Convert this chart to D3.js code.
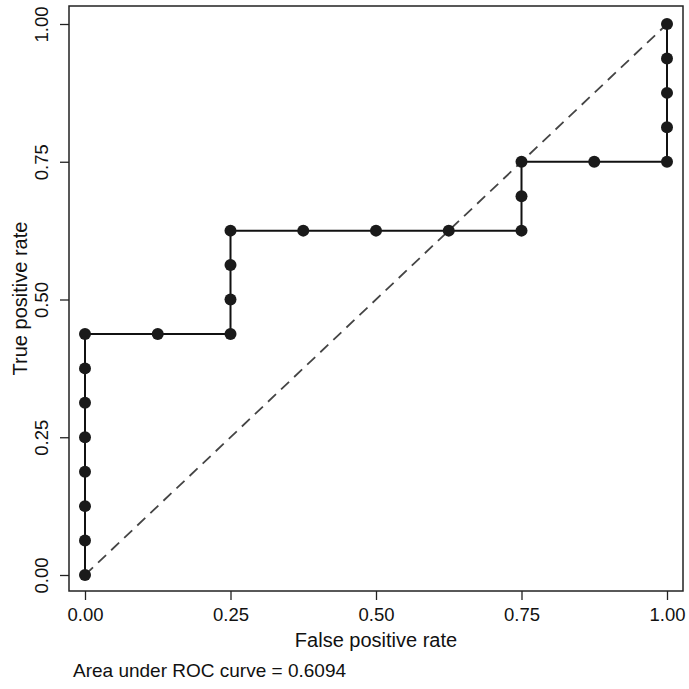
<!DOCTYPE html>
<html>
<head>
<meta charset="utf-8">
<script src="https://cdn.jsdelivr.net/npm/d3@7"></script>
<style>
  body { margin: 0; background: #fff; }
  text { font-family: "Liberation Sans", Arial, sans-serif; fill: #111; }
</style>
</head>
<body>
<div id="chart"></div>
<script>
// ROC points (false positive rate, true positive rate)
const fpr = [0, 0, 0, 0, 0, 0, 0, 0, 0.125, 0.25, 0.25, 0.25, 0.25, 0.375, 0.5, 0.625, 0.75, 0.75, 0.75, 0.875, 1, 1, 1, 1, 1];
const tpr = [0, 0.0625, 0.125, 0.1875, 0.25, 0.3125, 0.375, 0.4375, 0.4375, 0.4375, 0.5, 0.5625, 0.625, 0.625, 0.625, 0.625, 0.625, 0.6875, 0.75, 0.75, 0.75, 0.8125, 0.875, 0.9375, 1];
const ticks = [0, 0.25, 0.5, 0.75, 1];
const aucLabel = 'Area under ROC curve = 0.6094';

const width = 689, height = 689;
const frame = {l: 69, t: 6, r: 683, b: 591};

const svg = d3.select('#chart').append('svg')
    .attr('width', width)
    .attr('height', height);

const x = d3.scaleLinear().domain([0, 1]).range([85, 667]);
const y = d3.scaleLinear().domain([0, 1]).range([575, 24]);

const points = fpr.map((d, i) => ({x: d, y: tpr[i]}));

// plot frame
svg.append('rect')
    .attr('x', frame.l).attr('y', frame.t)
    .attr('width', frame.r - frame.l).attr('height', frame.b - frame.t)
    .attr('fill', 'none').attr('stroke', '#222').attr('stroke-width', 1.5);

// axes
const xAxis = svg.append('g')
    .attr('transform', `translate(0,${frame.b})`)
    .call(d3.axisBottom(x).tickValues(ticks).tickFormat(d3.format('.2f')).tickSize(9).tickPadding(8));
xAxis.select('.domain').remove();
xAxis.selectAll('line').attr('stroke', '#222').attr('stroke-width', 1.3);
xAxis.selectAll('text').attr('font-size', 18.5).attr('fill', '#111')
    .style('font-family', '"Liberation Sans", Arial, sans-serif');

const yAxis = svg.append('g')
    .attr('transform', `translate(${frame.l},0)`)
    .call(d3.axisLeft(y).tickValues(ticks).tickFormat(d3.format('.2f')).tickSize(9));
yAxis.select('.domain').remove();
yAxis.selectAll('line').attr('stroke', '#222').attr('stroke-width', 1.3);
yAxis.selectAll('text')
    .attr('font-size', 18.5).attr('fill', '#111')
    .style('font-family', '"Liberation Sans", Arial, sans-serif')
    .attr('x', 0).attr('dy', 0)
    .attr('text-anchor', 'middle')
    .attr('transform', 'translate(-21,0) rotate(-90)');

// reference diagonal
svg.append('line')
    .attr('x1', x(0)).attr('y1', y(0))
    .attr('x2', x(1)).attr('y2', y(1))
    .attr('stroke', '#444').attr('stroke-width', 1.8)
    .attr('stroke-dasharray', '11,7');

// ROC curve
const line = d3.line().x(d => x(d.x)).y(d => y(d.y));
svg.append('path')
    .datum(points)
    .attr('d', line)
    .attr('fill', 'none')
    .attr('stroke', '#111')
    .attr('stroke-width', 2);

svg.append('g').selectAll('circle')
    .data(points)
    .enter()
    .append('circle')
    .attr('cx', d => x(d.x))
    .attr('cy', d => y(d.y))
    .attr('r', 6)
    .attr('fill', '#1a1a1a');

// titles
svg.append('text')
    .attr('x', 376).attr('y', 647)
    .attr('text-anchor', 'middle').attr('font-size', 20)
    .text('False positive rate');

svg.append('text')
    .attr('transform', `translate(27,${(frame.t + frame.b) / 2}) rotate(-90)`)
    .attr('text-anchor', 'middle').attr('font-size', 20)
    .text('True positive rate');

svg.append('text')
    .attr('x', 73).attr('y', 677)
    .attr('font-size', 19)
    .text(aucLabel);
</script>
</body>
</html>
